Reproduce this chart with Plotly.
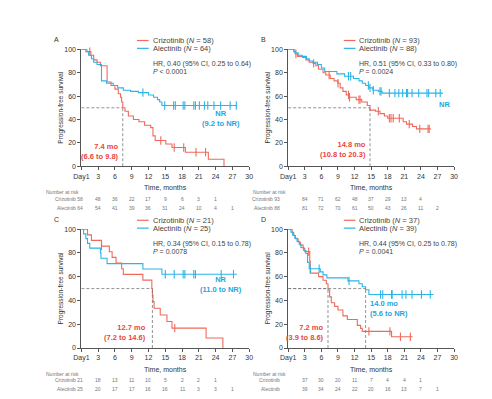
import plotly.graph_objects as go

W, H = 492, 399
RED = "#EF6A5C"
BLUE = "#2DB4E8"
REDT = "#E8473D"
BLUET = "#1CA7E0"
FONT = "Arial, Liberation Sans, sans-serif"

# ---------------- data ----------------
months = [0, 3, 6, 9, 12, 15, 18, 21, 24, 27, 30]
month_labels = ["Day1", "3", "6", "9", "12", "15", "18", "21", "24", "27", "30"]
surv_ticks = [0, 20, 40, 60, 80, 100]

# Panel A
A_criz_t = [0, 1.0, 1.7, 2.2, 2.8, 3.4, 4.6, 5.3, 6.0, 6.6, 7.0, 7.2, 7.4, 7.8, 8.4, 9.3, 10.3, 11.3, 12.4, 12.8, 13.2, 15.1, 16.2, 18.6, 22.7, 25.5]
A_criz_s = [100, 98, 95, 91, 89, 86, 72, 69, 66, 62, 59, 55, 50, 47, 43, 40, 38, 35, 33, 26, 22, 19, 16, 12, 6, 0]
A_criz_end = 25.5
A_criz_cens = [1.5, 14.2, 16.6, 18.3, 20.5, 22.2]
A_alec_t = [0, 0.8, 1.3, 1.8, 2.2, 2.8, 3.6, 4.5, 5.7, 6.5, 7.5, 8.8, 10.2, 12.0, 12.9, 13.6, 14.0, 14.4]
A_alec_s = [100, 98, 95, 92, 89, 87, 73, 71, 69, 67, 65, 64, 63, 61, 59, 57, 55, 52]
A_alec_end = 27.8
A_alec_cens = [11.0, 14.9, 16.5, 16.8, 18.2, 18.5, 20.1, 20.4, 21.1, 22.0, 22.6, 23.7, 24.9, 26.6, 27.7]
A_criz_n = [48, 36, 22, 17, 9, 6, 3, 1]
A_alec_n = [54, 41, 39, 36, 31, 24, 10, 4, 1]

# Panel B
B_criz_t = [0, 1.0, 1.3, 1.7, 2.6, 3.2, 3.8, 4.5, 5.0, 5.5, 6.3, 6.8, 7.6, 8.3, 9.0, 9.4, 9.9, 10.5, 11.0, 12.3, 13.3, 14.3, 14.8, 15.8, 16.6, 17.4, 18.0, 20.8, 21.4, 22.5, 23.2]
B_criz_s = [100, 98, 96, 94, 93, 91, 89, 88, 86, 83, 80, 78, 75, 73, 71, 67, 64, 61, 59, 57, 55, 52, 48, 47, 45, 43, 41, 38, 36, 34, 32]
B_criz_end = 25.8
B_criz_cens = [1.4, 4.6, 7.4, 9.0, 10.9, 11.1, 12.8, 13.0, 16.3, 18.3, 18.6, 19.0, 20.1, 21.9, 23.8, 25.3, 25.5]
B_alec_t = [0, 1.2, 1.8, 2.5, 3.3, 3.8, 4.5, 5.3, 6.0, 6.6, 8.8, 10.2, 11.8, 12.8, 13.4, 14.0, 14.6, 15.3, 16.3, 17.0]
B_alec_s = [100, 97, 95, 94, 92, 90, 89, 87, 84, 81, 79, 77, 75, 73, 71, 69, 67, 65, 64, 62.5]
B_alec_end = 28.0
B_alec_cens = [10.9, 11.3, 14.5, 14.8, 15.4, 16.6, 16.8, 18.3, 19.3, 20.0, 20.7, 21.4, 21.6, 22.4, 23.6, 25.1, 25.4, 26.7, 27.5]
B_criz_n = [84, 71, 62, 48, 37, 29, 13, 4]
B_alec_n = [81, 72, 70, 61, 50, 43, 26, 11, 2]

# Panel C
C_criz_t = [0, 1.1, 1.8, 3.6, 5.0, 5.5, 6.2, 7.2, 7.5, 11.0, 12.6, 12.7, 12.8, 13.0, 14.1, 15.3, 16.2, 22.3, 25.3]
C_criz_s = [100, 95.2, 90.5, 85.7, 81.0, 76.2, 71.4, 66.7, 61.9, 57.1, 50.0, 44.6, 39.0, 33.4, 27.8, 22.3, 16.7, 8.4, 0]
C_criz_end = 25.3
C_criz_cens = [3.6, 16.7]
C_alec_t = [0, 0.4, 0.8, 1.1, 1.5, 3.4, 3.5, 4.6, 11.0, 14.4]
C_alec_s = [100, 96, 92, 88, 84, 80, 75.5, 71, 66.5, 62]
C_alec_end = 27.8
C_alec_cens = [15.0, 16.6, 18.2, 18.5, 20.1, 20.4, 25.0, 27.2]
C_criz_n = [18, 13, 11, 10, 5, 2, 2, 1]
C_alec_n = [20, 17, 17, 16, 16, 11, 3, 3, 1]

# Panel D
D_criz_t = [0, 0.7, 1.0, 1.3, 1.8, 2.2, 2.7, 3.0, 3.9, 4.0, 5.5, 6.3, 6.9, 7.2, 7.5, 7.8, 8.4, 9.0, 9.9, 10.7, 12.5, 13.1, 13.4, 18.7]
D_criz_s = [100, 97.3, 94.6, 91.9, 89.2, 86.5, 83.8, 81.1, 73, 63, 60, 57, 54, 49, 43, 38, 35, 32, 27, 24, 19, 16.5, 14, 9.5]
D_criz_end = 22.5
D_criz_cens = [3.7, 14.6, 18.4, 20.3, 22.1]
D_alec_t = [0, 0.5, 0.8, 1.2, 1.6, 2.0, 2.3, 2.8, 3.2, 3.5, 3.8, 5.8, 6.3, 7.0, 10.8, 12.8, 13.4, 14.0, 14.6]
D_alec_s = [100, 97.4, 94.9, 92.3, 89.7, 87.2, 84.6, 82, 79.5, 72, 66.7, 64, 61.5, 59, 56.5, 54, 51.5, 49, 45]
D_alec_end = 26.3
D_alec_cens = [4.0, 5.6, 11.0, 16.7, 17.1, 18.7, 18.8, 20.6, 21.3, 22.4, 24.1, 25.7]
D_criz_n = [37, 30, 20, 11, 7, 4, 4, 1]
D_alec_n = [39, 34, 24, 22, 20, 16, 13, 7, 1]

panels = [
    dict(letter="A", criz=(A_criz_t, A_criz_s, A_criz_end, A_criz_cens), alec=(A_alec_t, A_alec_s, A_alec_end, A_alec_cens),
         ncriz="58", nalec="64", hr="HR, 0.40 (95% CI, 0.25 to 0.64)", p="<i>P</i> < 0.0001",
         crizN=A_criz_n, alecN=A_alec_n, lab_c="Crizotinib 58", lab_a="Alectinib 64"),
    dict(letter="B", criz=(B_criz_t, B_criz_s, B_criz_end, B_criz_cens), alec=(B_alec_t, B_alec_s, B_alec_end, B_alec_cens),
         ncriz="93", nalec="88", hr="HR, 0.51 (95% CI, 0.33 to 0.80)", p="<i>P</i> = 0.0024",
         crizN=B_criz_n, alecN=B_alec_n, lab_c="Crizotinib 93", lab_a="Alectinib 88"),
    dict(letter="C", criz=(C_criz_t, C_criz_s, C_criz_end, C_criz_cens), alec=(C_alec_t, C_alec_s, C_alec_end, C_alec_cens),
         ncriz="21", nalec="25", hr="HR, 0.34 (95% CI, 0.15 to 0.78)", p="<i>P</i> = 0.0078",
         crizN=C_criz_n, alecN=C_alec_n, lab_c="Crizotinib 21", lab_a="Alectinib 25"),
    dict(letter="D", criz=(D_criz_t, D_criz_s, D_criz_end, D_criz_cens), alec=(D_alec_t, D_alec_s, D_alec_end, D_alec_cens),
         ncriz="37", nalec="39", hr="HR, 0.44 (95% CI, 0.25 to 0.78)", p="<i>P</i> = 0.0041",
         crizN=D_criz_n, alecN=D_alec_n, lab_c="Crizotinib", lab_a="Alectinib"),
]

# medians: (panel index, value, colour, label lines, label anchor, label x, label y)
medians = [
    (0, 7.4, REDT, "7.4 mo<br>(6.6 to 9.8)", "right", 7.1, 13),
    (0, None, BLUET, "NR<br>(9.2 to NR)", "center", 25.0, 41),
    (1, 14.8, REDT, "14.8 mo<br>(10.8 to 20.3)", "right", 14.5, 14),
    (1, None, BLUET, "NR", "center", 28.3, 53),
    (2, 12.7, REDT, "12.7 mo<br>(7.2 to 14.6)", "right", 12.0, 13),
    (2, None, BLUET, "NR<br>(11.0 to NR)", "center", 25.0, 53),
    (3, 7.2, REDT, "7.2 mo<br>(3.9 to 8.6)", "right", 6.8, 13),
    (3, 14.0, BLUET, "14.0 mo<br>(5.6 to NR)", "left", 14.5, 33),
]
median_level = 50

# ---------------- layout geometry (pixels) ----------------
col_x = [(67, 239), (279, 449)]
row_y = [(38, 157), (221, 342)]


def px_x(x):
    return x / W


def px_y(y):
    return 1 - y / H


def surv_at(t, times, surv):
    v = surv[0]
    for tt, ss in zip(times, surv):
        if tt <= t:
            v = ss
    return v


fig = go.Figure()
annotations = []
shapes = []

for i, p in enumerate(panels):
    col, row = i % 2, i // 2
    xa = "x" if i == 0 else f"x{i+1}"
    ya = "y" if i == 0 else f"y{i+1}"
    xl = "xaxis" if i == 0 else f"xaxis{i+1}"
    yl = "yaxis" if i == 0 else f"yaxis{i+1}"
    x0, x1 = col_x[col]
    y0, y1 = row_y[row]

    for (t, s, end, cens), color in ((p["criz"], RED), (p["alec"], BLUE)):
        xs = list(t) + [end]
        ys = list(s) + [s[-1]]
        fig.add_trace(go.Scatter(x=xs, y=ys, mode="lines", line=dict(color=color, width=1.1, shape="hv"),
                                 xaxis=xa, yaxis=ya, showlegend=False, cliponaxis=False, hoverinfo="skip"))
        fig.add_trace(go.Scatter(x=cens, y=[surv_at(c, t, s) for c in cens], mode="markers",
                                 marker=dict(symbol="line-ns", size=6, line=dict(color=color, width=1.1)),
                                 xaxis=xa, yaxis=ya, showlegend=False, cliponaxis=False, hoverinfo="skip"))

    fig.update_layout(**{
        xl: dict(domain=[px_x(x0), px_x(x1)], range=[0, 30], anchor=ya, tickvals=months, ticktext=month_labels,
                 ticks="outside", ticklen=3, tickwidth=1, tickcolor="#555", showline=True, linecolor="#555",
                 linewidth=1, showgrid=False, zeroline=False, tickfont=dict(size=7, color="#333", family=FONT)),
        yl: dict(domain=[px_y(y1), px_y(y0)], range=[0, 100], anchor=xa, tickvals=surv_ticks,
                 ticks="outside", ticklen=3, tickwidth=1, tickcolor="#555", showline=True, linecolor="#555",
                 linewidth=1, showgrid=False, zeroline=False, tickfont=dict(size=7, color="#333", family=FONT)),
    })

    # panel letter
    annotations.append(dict(x=px_x(x0 - 25), y=px_y(y0 - 10), xref="paper", yref="paper", text=p["letter"],
                            showarrow=False, xanchor="center", yanchor="middle", font=dict(size=7, color="#333")))
    # y title
    annotations.append(dict(x=px_x(x0 - 21), y=px_y((y0 + y1) / 2), xref="paper", yref="paper",
                            text="Progression-free survival", textangle=-90, showarrow=False,
                            xanchor="center", yanchor="middle", font=dict(size=6.5, color="#333")))
    # x title
    annotations.append(dict(x=px_x((x0 + x1) / 2), y=px_y(y1 + 22), xref="paper", yref="paper",
                            text="Time, months", showarrow=False, xanchor="center", yanchor="middle",
                            font=dict(size=7, color="#333")))
    # legend
    lx = x0 + 57
    for k, (name, n, color) in enumerate((("Crizotinib", p["ncriz"], RED), ("Alectinib", p["nalec"], BLUE))):
        ly = y0 - 9 + 8 * k
        shapes.append(dict(type="line", xref="paper", yref="paper", x0=px_x(lx), x1=px_x(lx + 12),
                           y0=px_y(ly), y1=px_y(ly), line=dict(color=color, width=1.2)))
        annotations.append(dict(x=px_x(lx + 14), y=px_y(ly), xref="paper", yref="paper",
                                text=f"{name} (<i>N</i> = {n})", showarrow=False, xanchor="left",
                                yanchor="middle", font=dict(size=7.5, color="#444")))
    annotations.append(dict(x=px_x(lx + 14), y=px_y(y0 + 15), xref="paper", yref="paper", text=p["hr"],
                            showarrow=False, xanchor="left", yanchor="middle", font=dict(size=7, color="#444")))
    annotations.append(dict(x=px_x(lx + 14), y=px_y(y0 + 23), xref="paper", yref="paper", text=p["p"],
                            showarrow=False, xanchor="left", yanchor="middle", font=dict(size=7, color="#444")))

    # number at risk
    nr_y = y1 + 26
    annotations.append(dict(x=px_x(x0 - 38), y=px_y(nr_y), xref="paper", yref="paper", text="Number at risk",
                            showarrow=False, xanchor="left", yanchor="middle", font=dict(size=5, color="#777")))
    for k, (lab, vals) in enumerate(((p["lab_c"], p["crizN"]), (p["lab_a"], p["alecN"]))):
        ry = nr_y + 7 + 9 * k
        annotations.append(dict(x=px_x(x0 + 4 if col == 0 else x0 - 6), y=px_y(ry), xref="paper", yref="paper",
                                text=lab, showarrow=False, xanchor="right", yanchor="middle",
                                font=dict(size=5, color="#777")))
        for m, v in zip(months[1:], vals):
            annotations.append(dict(x=m, y=px_y(ry), xref=xa, yref="paper", text=str(v), showarrow=False,
                                    xanchor="center", yanchor="middle", font=dict(size=5, color="#777")))

# median lines and labels
for (pi, val, color, text, anchor, tx, ty) in medians:
    xa = "x" if pi == 0 else f"x{pi+1}"
    ya = "y" if pi == 0 else f"y{pi+1}"
    if val is not None:
        shapes.append(dict(type="line", xref=xa, yref=ya, x0=0, x1=val, y0=median_level, y1=median_level,
                           line=dict(color="#777", width=0.8, dash="3px,2px")))
        shapes.append(dict(type="line", xref=xa, yref=ya, x0=val, x1=val, y0=0, y1=median_level,
                           line=dict(color="#777", width=0.8, dash="3px,2px")))
    annotations.append(dict(x=tx, y=ty, xref=xa, yref=ya, text=f"<b>{text}</b>", showarrow=False,
                            xanchor=anchor, yanchor="middle", align=anchor if anchor != "center" else "center",
                            font=dict(size=7.5, color=color)))

fig.update_layout(width=W, height=H, margin=dict(l=0, r=0, t=0, b=0), paper_bgcolor="white",
                  plot_bgcolor="white", font=dict(family=FONT), annotations=annotations, shapes=shapes)
fig.write_html("out.html")
